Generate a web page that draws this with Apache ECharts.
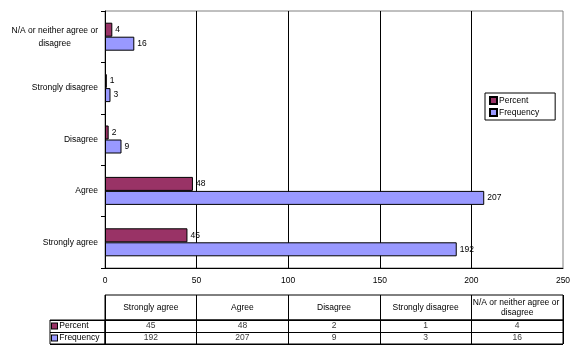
<!DOCTYPE html>
<html>
<head>
<meta charset="utf-8">
<script src="https://cdn.jsdelivr.net/npm/echarts@6/dist/echarts.min.js"></script>
<style>html,body{margin:0;padding:0;background:#fff}#c{width:575px;height:359px}</style>
</head>
<body>
<div id="c"></div>
<script>
var categories = ['Strongly agree', 'Agree', 'Disagree', 'Strongly disagree', 'N/A or neither agree or disagree'];
var seriesNames = ['Percent', 'Frequency'];
var percentValues = [45, 48, 2, 1, 4];
var frequencyValues = [192, 207, 9, 3, 16];
var xTicks = [0, 50, 100, 150, 200, 250];

var FONT = 'Liberation Sans, Arial, sans-serif';
var FS = 8.5;
var colors = ['#993366', '#9999FF'];
var seriesValues = [percentValues, frequencyValues];

var measureCtx = document.createElement('canvas').getContext('2d');
measureCtx.font = FS + 'px ' + FONT;
function wrapText(text, maxW) {
  var words = text.split(' ');
  var lines = [];
  var cur = '';
  words.forEach(function (w) {
    var t = cur ? cur + ' ' + w : w;
    if (cur && measureCtx.measureText(t).width > maxW) {
      lines.push(cur);
      cur = w;
    } else {
      cur = t;
    }
  });
  if (cur) lines.push(cur);
  return lines;
}

var chart = echarts.init(document.getElementById('c'), null, {renderer: 'canvas'});

var tableData = [];
seriesNames.forEach(function (name, r) {
  seriesValues[r].forEach(function (v, i) {
    tableData.push([categories[i], name, v]);
  });
});

var option = {
  backgroundColor: '#fff',
  animation: false,
  textStyle: {fontFamily: FONT, fontSize: FS, color: '#000'},
  legend: {
    data: seriesNames,
    orient: 'vertical',
    left: 485, top: 93,
    padding: [3, 16, 3, 4],
    itemGap: 3,
    itemWidth: 7, itemHeight: 7,
    borderColor: '#000', borderWidth: 1,
    icon: 'rect',
    textStyle: {fontFamily: FONT, fontSize: FS, color: '#000', padding: [0, 0, 0, -3]}
  },
  grid: [
    {left: 105, right: 12, top: 11, height: 257, show: true, borderColor: '#808080', borderWidth: 1, backgroundColor: 'transparent'},
    {left: 105, right: 12, top: 295, height: 25, show: true, borderColor: '#000', borderWidth: 1},
    {left: 105, right: 12, top: 320, height: 24, show: true, borderColor: '#000', borderWidth: 1},
    {left: 50, width: 55, top: 320, height: 24, show: true, borderColor: '#000', borderWidth: 1}
  ],
  xAxis: [
    {
      gridIndex: 0, type: 'value', min: xTicks[0], max: xTicks[xTicks.length - 1], interval: xTicks[1] - xTicks[0],
      axisLine: {show: true, lineStyle: {color: '#000', width: 1}},
      axisTick: {show: false},
      splitLine: {show: true, showMaxLine: false, lineStyle: {color: '#000', width: 1}},
      axisLabel: {color: '#000', fontFamily: FONT, fontSize: FS, margin: 8}
    },
    {
      gridIndex: 1, type: 'category', data: categories,
      axisLine: {show: false}, axisTick: {show: false},
      splitLine: {show: true, interval: 0, lineStyle: {color: '#000', width: 1}},
      axisLabel: {inside: true, margin: 12, verticalAlign: 'middle', color: '#000', fontFamily: FONT, fontSize: FS,
        width: 90, overflow: 'break', lineHeight: 10, interval: 0}
    },
    {
      gridIndex: 2, type: 'category', data: categories,
      axisLine: {show: false}, axisTick: {show: false}, axisLabel: {show: false, interval: 0},
      splitLine: {show: true, interval: 0, lineStyle: {color: '#000', width: 1}}
    },
    {
      gridIndex: 3, type: 'value', show: false
    }
  ],
  yAxis: [
    {
      gridIndex: 0, type: 'category', data: categories,
      axisLine: {show: true, lineStyle: {color: '#000', width: 1}},
      axisTick: {show: true, length: 4, interval: 0, lineStyle: {color: '#000'}},
      splitLine: {show: false},
      axisLabel: {color: '#000', fontFamily: FONT, fontSize: FS, margin: 7, align: 'right', interval: 0,
        formatter: function (v) {
          return wrapText(v, 95).map(function (l) { return '{c|' + l + '}'; }).join('\n');
        },
        rich: {c: {align: 'center', fontFamily: FONT, fontSize: FS, color: '#000', lineHeight: 13}}
      }
    },
    {
      gridIndex: 1, type: 'category', data: [''], show: false
    },
    {
      gridIndex: 2, type: 'category', data: seriesNames, inverse: true,
      axisLine: {show: false}, axisTick: {show: false}, axisLabel: {show: false, interval: 0},
      splitLine: {show: true, interval: 0, lineStyle: {color: '#000', width: 1}}
    },
    {
      gridIndex: 3, type: 'category', data: seriesNames, inverse: true,
      axisLine: {show: false}, axisTick: {show: false},
      splitLine: {show: true, interval: 0, lineStyle: {color: '#000', width: 1}},
      axisLabel: {inside: true, interval: 0, margin: 2, align: 'left', color: '#000', fontFamily: FONT, fontSize: FS,
        formatter: function (v) { return '{m' + seriesNames.indexOf(v) + '|}' + ' ' + v; },
        rich: {
          m0: {width: 5, height: 5, backgroundColor: colors[0], borderColor: '#000', borderWidth: 1},
          m1: {width: 5, height: 5, backgroundColor: colors[1], borderColor: '#000', borderWidth: 1}
        }
      }
    }
  ],
  series: seriesNames.map(function (name, r) {
    return {
      name: name, type: 'bar', xAxisIndex: 0, yAxisIndex: 0,
      data: seriesValues[r],
      barWidth: 14, barGap: '0%',
      itemStyle: {color: colors[r], borderColor: '#000', borderWidth: 1},
      label: {show: true, position: 'right', distance: 3, color: '#000', fontFamily: FONT, fontSize: FS}
    };
  }).concat([{
    name: 'table', type: 'scatter', xAxisIndex: 2, yAxisIndex: 2,
    data: tableData, symbolSize: 1, itemStyle: {color: 'transparent'},
    label: {show: true, position: 'inside', color: '#000', fontFamily: FONT, fontSize: FS,
      formatter: function (p) { return String(p.value[2]); }},
    silent: true
  }])
};
chart.setOption(option);
</script>
</body>
</html>
